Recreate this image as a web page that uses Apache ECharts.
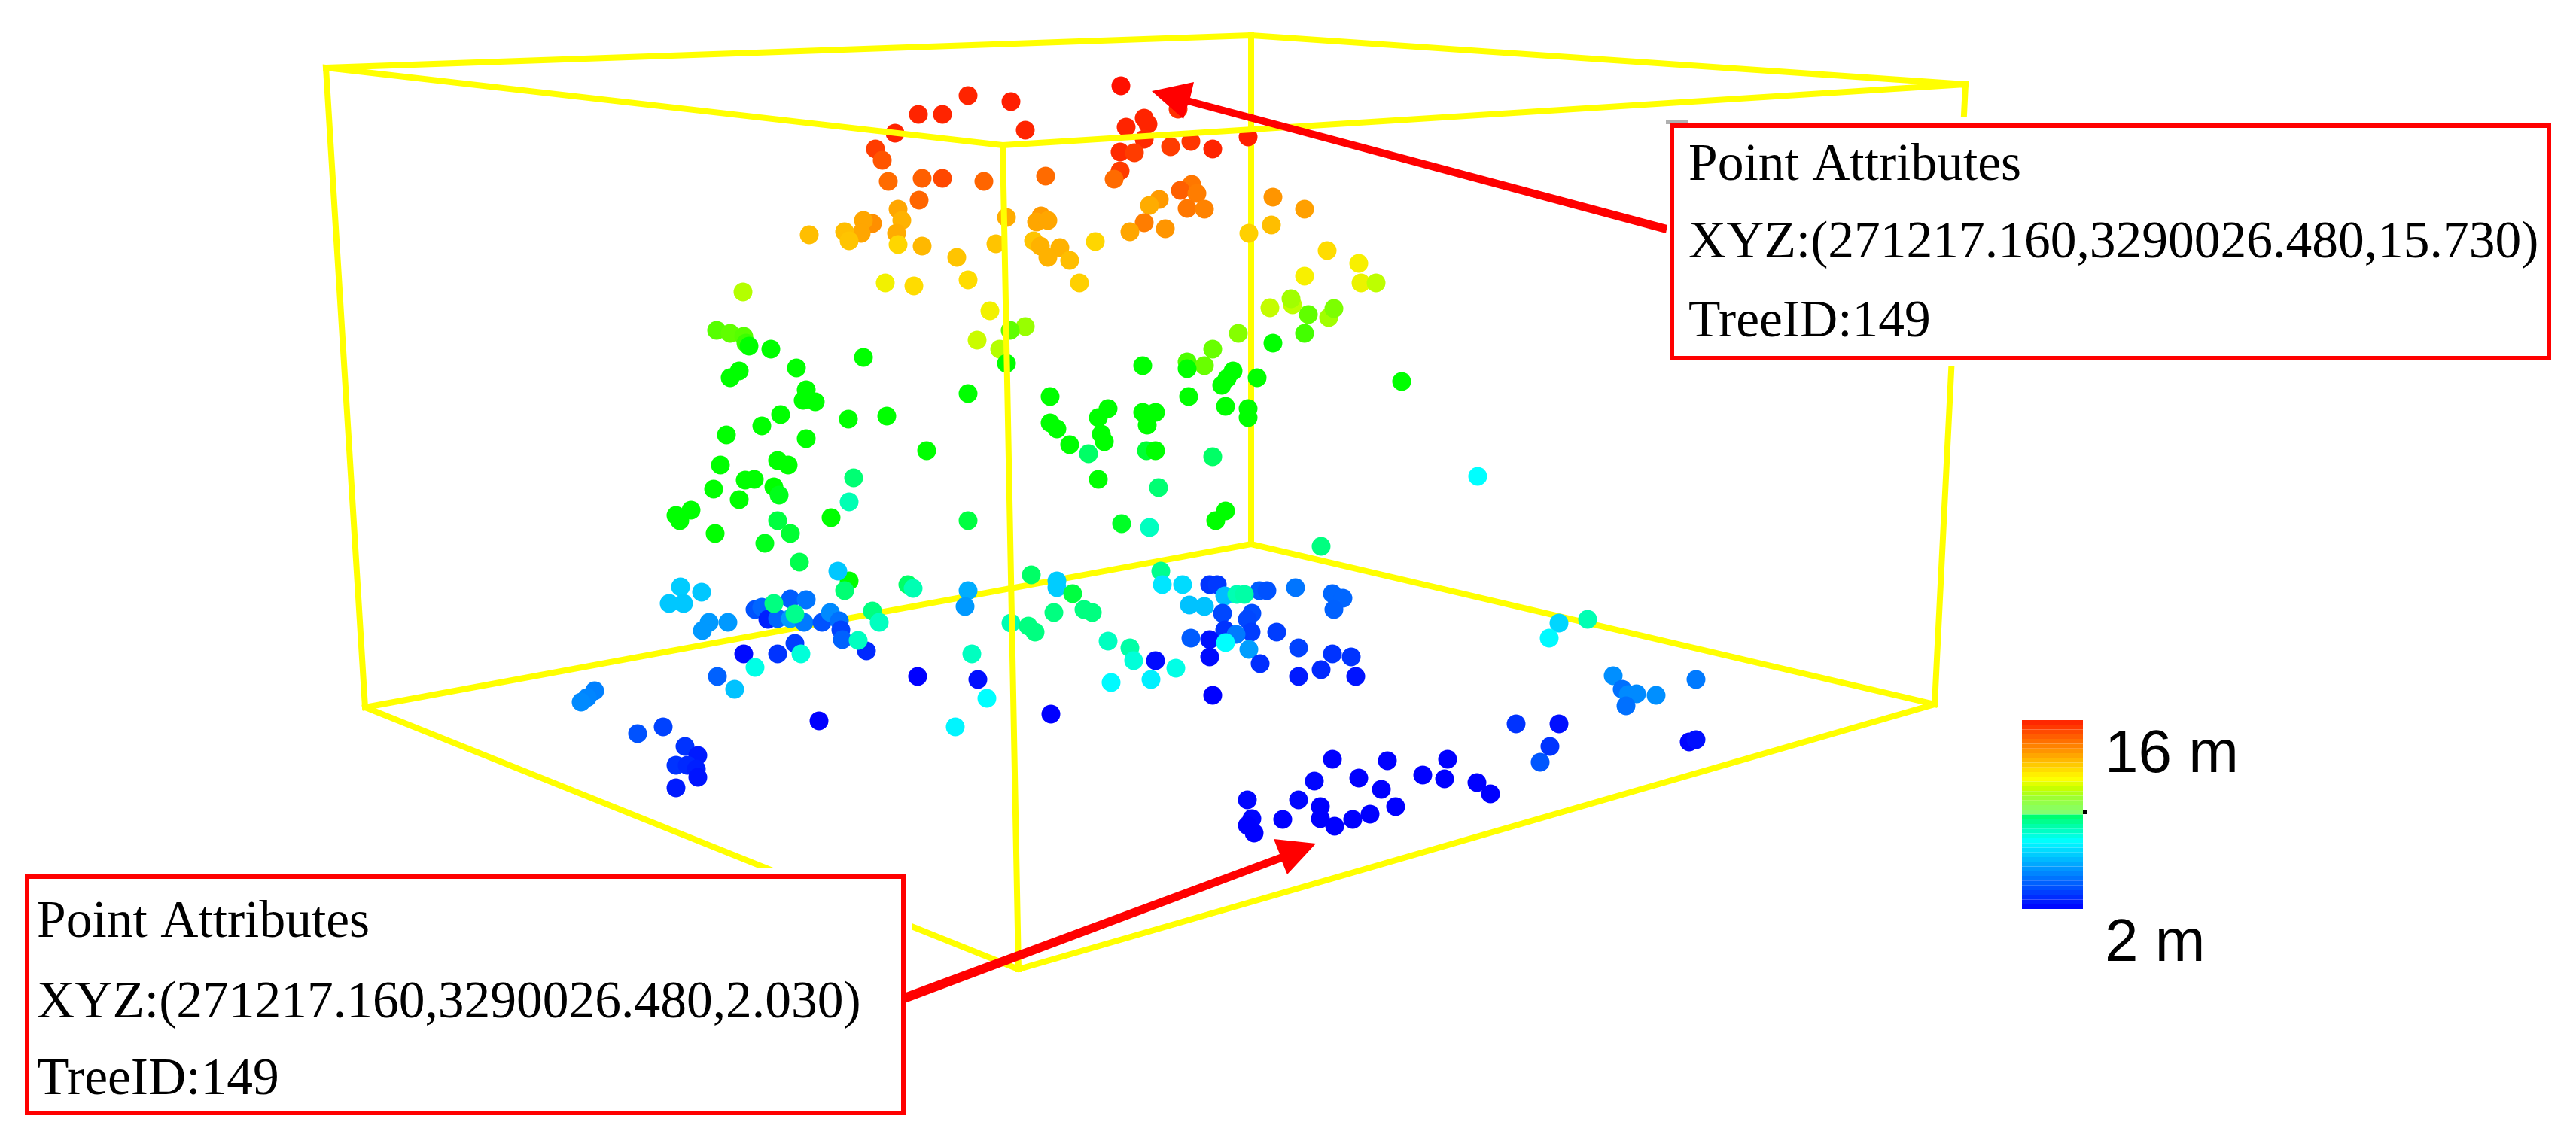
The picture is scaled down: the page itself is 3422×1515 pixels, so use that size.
<!DOCTYPE html>
<html><head><meta charset="utf-8">
<style>html,body{margin:0;padding:0;background:#fff}#c{width:3422px;height:1515px}</style>
<script src="https://cdn.jsdelivr.net/npm/echarts@6/dist/echarts.min.js"></script>
</head><body><div id="c"></div>
<script>
// Point cloud, grouped by part of the tree: [x, y, height in m]
const crownTopLeft = [[1220,152,15.4],[1252,152,15.4],[1286,127,15.4],[1343,135,15.5],[1189,177,15.4],[1362,173,15.4],[1163,198,15],[1172,213,14.6],[1180,241,14.2],[1225,237,14.4],[1252,237,14.8],[1221,266,14.3],[1307,241,14.3],[1389,234,14.2]];
const crownTopRight = [[1489,114,15.73],[1520,157,15.4],[1496,169,15.4],[1525,165,15.4],[1565,145,15.2],[1520,185,15.3],[1555,195,15],[1582,188,15.1],[1611,198,15.4],[1658,182,15.5],[1488,202,15.3],[1507,203,15],[1488,227,15],[1480,238,14.2]];
const crownMidLeft = [[1193,278,13.2],[1198,293,13],[1159,297,13.6],[1147,293,13.2],[1144,310,13.2],[1122,308,12.8],[1128,320,12.7],[1075,312,12.8],[1191,310,13.1],[1193,325,12.4],[1225,327,12.9],[1176,376,11.8],[1214,380,12.3]];
const crownMidCentre = [[1337,289,13.1],[1383,287,13.4],[1377,295,13.2],[1392,293,13.2],[1323,324,12.7],[1373,320,12.7],[1382,327,13],[1408,329,13],[1392,342,13],[1421,346,12.8],[1455,321,12.4],[1271,342,12.7],[1286,372,12.3],[1434,376,12.5]];
const crownMidRight = [[1583,245,14],[1568,253,14.4],[1590,257,13.9],[1540,265,13.4],[1527,273,13.1],[1577,277,14],[1600,278,13.8],[1520,296,13.9],[1548,304,13.5],[1501,308,13.2],[1691,262,13.5],[1733,278,13.3],[1689,299,12.8],[1659,310,12.5],[1763,333,12.3],[1733,367,11.9],[1805,350,11.9],[1808,376,11.7],[1828,376,11]];
const branchTransition = [[987,388,10.9],[952,439,9.9],[970,443,10],[988,447,9.9],[991,456,9.6],[1315,413,11.8],[1298,452,11.2],[1328,464,10.9],[1362,434,10.6],[1342,439,10],[1687,409,11.1],[1717,405,11],[1715,397,10.7],[1738,418,10],[1765,422,10.7],[1772,410,10.3],[1645,443,10.4],[1611,464,10.1],[1577,481,9.8],[1600,486,10.1],[1733,443,9.7]];
const branchLeft = [[995,460,9],[1024,464,9],[1147,475,9],[1058,489,9],[982,493,9],[970,502,9],[1071,518,9],[1067,532,9],[1083,534,9],[1037,551,9],[1127,557,9],[1178,553,9],[1012,566,9],[965,578,9],[1071,583,9],[1231,599,9],[957,618,9],[1033,612,9],[1047,618,9],[990,638,9],[1002,637,9],[948,650,9],[1028,647,9],[1035,658,8.8],[982,664,9],[918,678,9],[898,685,9],[903,692,9],[950,709,9],[1033,692,8.5],[1050,709,8.6],[1016,722,8.8],[1104,688,9],[1134,635,8.1],[1128,667,7.6],[1062,747,8.4],[1128,772,9],[1122,785,8.1],[1206,777,8.2],[1213,782,7.6]];
const branchCentre = [[1337,483,9],[1518,486,9],[1577,490,9],[1691,456,9],[1286,523,9],[1395,527,9],[1579,527,9],[1638,493,9],[1630,503,9],[1623,512,9],[1670,502,9],[1628,540,9],[1658,543,9],[1658,555,9],[1472,543,9],[1459,555,9],[1395,562,9],[1404,570,9],[1463,577,9],[1467,587,9],[1421,591,9],[1518,548,9],[1535,548,9],[1524,565,9],[1446,603,8.2],[1523,599,8.6],[1535,599,9],[1611,607,8.2],[1459,637,9],[1539,648,8.1],[1286,692,8.5],[1490,696,8.7],[1527,701,7.5],[1628,679,9],[1615,692,9],[1755,726,8],[1862,507,9],[1963,633,7]];
const lowerLeft = [[1113,759,5.9],[904,780,6],[932,787,5.9],[889,802,5.9],[908,802,5.9],[942,827,5],[967,827,5],[933,838,5],[1003,810,3.6],[1012,807,4],[1050,796,3.8],[1071,797,4.3],[1020,823,2.6],[1033,822,4],[1050,822,5],[1068,827,4.4],[1092,827,3.6],[1103,814,4.7],[1115,825,4.2],[1117,837,3.3],[1119,850,3.9],[1151,865,2.8],[1056,855,3.2],[1033,869,3],[988,869,2.2],[953,899,3.9],[976,916,5.8],[1028,802,8],[1056,816,7.9],[1140,851,7.5],[1159,812,8],[1168,827,7.5],[1064,869,7.3],[1003,887,7.2]];
const groundLeft = [[790,918,4.5],[780,927,4.6],[772,933,4.7],[1219,899,2],[1088,958,2],[847,975,3.6],[881,966,3.3],[910,992,3],[927,1004,2.5],[898,1017,3],[913,1017,2.8],[925,1022,2.6],[927,1033,2.4],[898,1047,2.5]];
const lowerCentre = [[1370,764,8.2],[1542,759,7.9],[1544,777,6.5],[1571,777,6.3],[1404,772,6],[1404,781,6],[1425,789,8.5],[1286,785,5.4],[1282,806,5],[1400,814,8],[1440,810,8],[1451,814,8],[1343,828,7.6],[1366,832,8],[1375,840,8],[1291,869,7.5],[1299,903,2.3],[1311,928,7],[1269,966,6.8],[1396,949,2],[1472,852,7.5],[1501,861,7.7],[1506,878,7.3],[1535,878,2.2],[1562,888,7.2],[1476,907,6.9],[1529,903,6.7],[1611,924,2]];
const lowerRight = [[1607,777,3],[1617,777,3.1],[1627,792,5.7],[1673,785,3.8],[1683,785,3.6],[1721,781,4.3],[1770,789,4],[1784,795,4],[1772,810,3.9],[1580,804,5.8],[1600,806,5.8],[1624,815,3.4],[1663,815,3.5],[1657,823,3.4],[1627,837,3],[1662,840,3.2],[1642,843,4.4],[1582,848,3.8],[1607,850,2.3],[1659,863,5.1],[1607,873,2.2],[1674,882,2.9],[1696,840,3.2],[1725,861,3.3],[1770,869,3],[1795,873,3],[1755,890,2.8],[1725,899,2.5],[1801,899,2.4],[1643,790,7.6],[1653,790,7.7],[1628,854,7]];
const groundFront = [[1770,1009,2],[1746,1038,2.1],[1725,1063,2.1],[1657,1063,2.1],[1663,1088,2.1],[1657,1097,2],[1666,1107,2],[1704,1089,2],[1754,1072,2],[1754,1088,2],[1773,1098,2],[1843,1011,2],[1805,1034,2],[1835,1049,2],[1854,1072,2],[1923,1009,2],[1919,1035,2],[1890,1030,2],[1962,1040,2],[1980,1055,2],[1820,1082,2],[1797,1089,2]];
const groundRight = [[2071,828,6.2],[2058,848,6.9],[2109,823,7.6],[2143,898,4.8],[2155,916,4.2],[2163,923,4.7],[2174,922,4.7],[2160,938,4.2],[2200,924,4.8],[2253,903,4.4],[2014,962,3],[2071,962,2.3],[2059,992,3],[2046,1013,3.7],[2244,986,2.1],[2253,983,2.3]];

// Bounding box of the tree, drawn as polylines on the same value axes
const backEdges = [
  [[433,90],[1662,47],[2611,112]],
  [[485,940],[1662,723],[2570,936]],
  [[1662,47],[1662,723]]
];
const frontEdges = [
  [[2570,936],[2611,112],[1332,193],[433,90],[485,940],[1353,1288],[2570,936]],
  [[1332,193],[1353,1288]]
];

const heightRange = [2, 16];
const heightTicks = ['16 m', '2 m'];
const attributeTitle = 'Point Attributes';
const treeLabel = 'TreeID:149';
const topPointLabel = 'XYZ:(271217.160,3290026.480,15.730)';
const lowPointLabel = 'XYZ:(271217.160,3290026.480,2.030)';

// colour ramp for the points, one stop per metre from 2 m to 16 m
const heightColors = ['#0000ff','#0033ff','#0066ff','#0099ff','#00ccff','#00ffff','#00ff80','#00ff00','#60ff00','#bdff00','#ffee00','#ffb200','#ff7700','#ff3c00','#ff0000'];

// stepped colour bar: stops [fraction from bottom, r, g, b]
const barStops = [[0,0,0,255],[0.36,0,255,255],[0.499,0,255,100],[0.5,130,255,120],[0.58,150,255,60],[0.63,190,255,0],[0.69,255,255,0],[1,255,30,0]];
const barBandCount = 40;
function barColor(f){
  for(let i=1;i<barStops.length;i++){
    if(f<=barStops[i][0]){
      const a=barStops[i-1],b=barStops[i],t=(f-a[0])/(b[0]-a[0]);
      return 'rgb('+[1,2,3].map(k=>Math.round(a[k]+(b[k]-a[k])*t)).join(',')+')';
    }
  }
  return 'rgb(255,30,0)';
}
const barPieces=[];
for(let i=0;i<barBandCount;i++){
  const s=(heightRange[1]-heightRange[0])/barBandCount;
  barPieces.push({min:heightRange[0]+i*s,max:heightRange[0]+(i+1)*s,color:barColor((i+0.5)/barBandCount)});
}

const points = [].concat(crownMidLeft,crownMidCentre,crownMidRight,crownTopLeft,crownTopRight,branchTransition,branchLeft,branchCentre,lowerLeft,groundLeft,lowerCentre,lowerRight,groundFront,groundRight);
const edgeSeries = (e,z)=>e.map(d=>({type:'line',data:d,symbol:'none',silent:true,z:z,
  lineStyle:{color:'#ffff00',width:8,join:'miter',cap:'square'},animation:false}));

const FONT_SERIF='"Liberation Serif", serif', FONT_SANS='"Liberation Sans", sans-serif';
const Z=100;
// x, baseline y: text boxes are anchored by their bottom, so the descent is added
const txt=(x,y,s,size,font)=>({type:'text',z:Z+2,x:x,y:y+0.22*size,style:{text:s,fill:'#000',font:size+'px '+font,verticalAlign:'bottom',align:'left'}});
const rect=(x,y,w,h,style,z)=>({type:'rect',z:z||Z,shape:{x:x,y:y,width:w,height:h},style:style});
const poly=(pts)=>({type:'polygon',z:Z+1,shape:{points:pts},style:{fill:'#ff0000'}});

const chart=echarts.init(document.getElementById('c'),null,{renderer:'canvas',width:3422,height:1515});
chart.setOption({
  animation:false,
  backgroundColor:'#ffffff',
  grid:{left:0,right:0,top:0,bottom:0},
  xAxis:{type:'value',min:0,max:3422,show:false},
  yAxis:{type:'value',min:0,max:1515,inverse:true,show:false},
  visualMap:[
    {type:'continuous',show:false,seriesIndex:backEdges.length,dimension:2,min:heightRange[0],max:heightRange[1],inRange:{color:heightColors}},
    {type:'piecewise',show:true,seriesIndex:backEdges.length+1,dimension:2,left:2686,top:957,padding:0,itemWidth:81,itemHeight:6.275,itemGap:0,itemSymbol:'rect',showLabel:false,selectedMode:false,orient:'vertical',pieces:barPieces.slice().reverse(),z:90}
  ],
  series:[
    ...edgeSeries(backEdges,2),
    {type:'scatter',data:points,symbol:'circle',symbolSize:25,itemStyle:{opacity:1},silent:true,z:3,animation:false},
    {type:'scatter',data:[],silent:true,animation:false},
    ...edgeSeries(frontEdges,4)
  ],
  graphic:{elements:[
    // white mats behind the annotation boxes
    rect(2209,155,1191,332,{fill:'#fff'}),
    rect(0,1153,1212,337,{fill:'#fff'}),
    rect(2213,160,30,5,{fill:'#b0b0b0'},Z+1),
    // annotation boxes
    rect(2221,167,1165,309,{fill:'#fff',stroke:'#ff0000',lineWidth:6},Z+1),
    rect(36,1165,1164,314,{fill:'#fff',stroke:'#ff0000',lineWidth:6},Z+1),
    txt(2243,240,attributeTitle,69.5,FONT_SERIF),
    txt(2243,343,topPointLabel,69.5,FONT_SERIF),
    txt(2243,448,treeLabel,69.5,FONT_SERIF),
    txt(49,1246,attributeTitle,69.5,FONT_SERIF),
    txt(49,1353,lowPointLabel,69.5,FONT_SERIF),
    txt(49,1455,treeLabel,69.5,FONT_SERIF),
    // arrows
    poly([[1530,121],[1586,109],[1581,130],[2215,299],[2213,310],[1578,139],[1572,158]]),
    poly([[1748,1121],[1692,1115],[1700,1135],[1198,1321],[1202,1333],[1703,1145],[1710,1162]]),
    // colour bar labels and tick
    txt(2796,1026,heightTicks[0],80,FONT_SANS),
    txt(2796,1277,heightTicks[1],80,FONT_SANS),
    rect(2767,1076,6,6,{fill:'#000'},Z+1)
  ]}
});
</script></body></html>
